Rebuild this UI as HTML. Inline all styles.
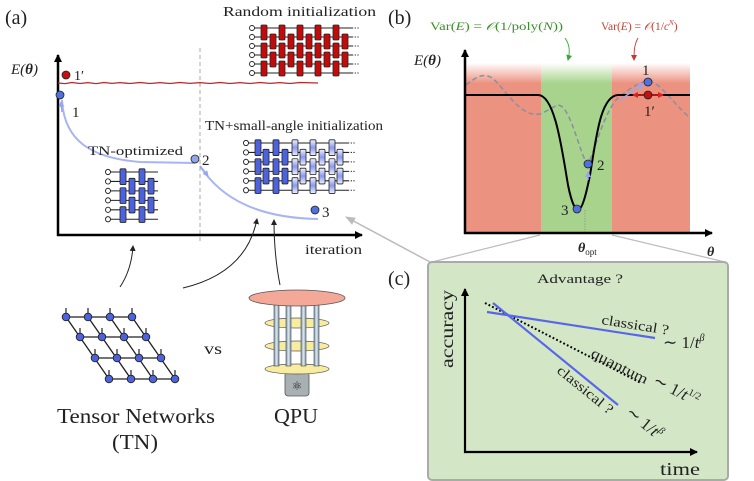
<!DOCTYPE html>
<html><head><meta charset="utf-8"><style>
html,body{margin:0;padding:0;background:#fff}
svg{display:block}
text{font-family:"Liberation Serif",serif;fill:#222}
</style></head><body>
<svg width="754" height="481" viewBox="0 0 754 481" xmlns="http://www.w3.org/2000/svg">
<defs>
<marker id="ah" markerWidth="8" markerHeight="8" refX="7" refY="4" orient="auto" markerUnits="userSpaceOnUse"><path d="M0,0 L8,4 L0,8 z" fill="#000"/></marker>
<marker id="ahs" markerWidth="6" markerHeight="6" refX="5" refY="3" orient="auto" markerUnits="userSpaceOnUse"><path d="M0,0 L6,3 L0,6 z" fill="#222"/></marker>
<marker id="ahg" markerWidth="10" markerHeight="8" refX="9" refY="4" orient="auto" markerUnits="userSpaceOnUse"><path d="M0,0 L10,4 L0,8 z" fill="#bbb"/></marker>
<marker id="ahb" markerWidth="6" markerHeight="6" refX="5" refY="3" orient="auto" markerUnits="userSpaceOnUse"><path d="M0,0 L6,3 L0,6 z" fill="#99a6ee"/></marker>
<marker id="ahr" markerWidth="6" markerHeight="6" refX="5" refY="3" orient="auto" markerUnits="userSpaceOnUse"><path d="M0,0 L6,3 L0,6 z" fill="#d22"/></marker>
<marker id="ahgr" markerWidth="6" markerHeight="6" refX="5" refY="3" orient="auto" markerUnits="userSpaceOnUse"><path d="M0,0 L6,3 L0,6 z" fill="#3a3"/></marker>
<marker id="ahrd" markerWidth="6" markerHeight="6" refX="5" refY="3" orient="auto" markerUnits="userSpaceOnUse"><path d="M0,0 L6,3 L0,6 z" fill="#c33"/></marker>
<g id="colA" stroke="#222" stroke-width="0.8"><rect x="-3" y="-3" width="6" height="15" rx="1"/><rect x="-3" y="15" width="6" height="15" rx="1"/><rect x="-3" y="33" width="6" height="15" rx="1"/></g>
<g id="colB" stroke="#222" stroke-width="0.8"><rect x="-3" y="6" width="6" height="15" rx="1"/><rect x="-3" y="24" width="6" height="15" rx="1"/></g>
<linearGradient id="lb" x1="0" y1="0" x2="0" y2="1"><stop offset="0" stop-color="#eef2ff"/><stop offset="0.5" stop-color="#8a99ee"/><stop offset="1" stop-color="#eef2ff"/></linearGradient>
<linearGradient id="fadeR" x1="0" y1="0" x2="0" y2="1"><stop offset="0" stop-color="#ec9280" stop-opacity="0"/><stop offset="0.12" stop-color="#ec9280" stop-opacity="1"/><stop offset="1" stop-color="#ec9280"/></linearGradient>
<linearGradient id="fadeG" x1="0" y1="0" x2="0" y2="1"><stop offset="0" stop-color="#a8d38c" stop-opacity="0"/><stop offset="0.12" stop-color="#a8d38c" stop-opacity="1"/><stop offset="1" stop-color="#a8d38c"/></linearGradient>
<linearGradient id="pill" x1="0" y1="0" x2="1" y2="0"><stop offset="0" stop-color="#7e97a4"/><stop offset="0.5" stop-color="#dfe9ee"/><stop offset="1" stop-color="#7e97a4"/></linearGradient>
</defs>

<!-- ===== Panel (a) ===== -->
<text x="5" y="24" font-size="20">(a)</text>
<text x="223" y="16" font-size="14" textLength="153" lengthAdjust="spacingAndGlyphs">Random initialization</text>

<g transform="translate(252,28)">
<g stroke="#222" stroke-width="1"><line x1="0" y1="0" x2="100" y2="0"/><line x1="0" y1="9" x2="100" y2="9"/><line x1="0" y1="18" x2="100" y2="18"/><line x1="0" y1="27" x2="100" y2="27"/><line x1="0" y1="36" x2="100" y2="36"/><line x1="0" y1="45" x2="100" y2="45"/></g>
<g stroke="#222" stroke-width="1" stroke-dasharray="1.2,1.5"><line x1="100" y1="0" x2="107" y2="0"/><line x1="100" y1="9" x2="107" y2="9"/><line x1="100" y1="18" x2="107" y2="18"/><line x1="100" y1="27" x2="107" y2="27"/><line x1="100" y1="36" x2="107" y2="36"/><line x1="100" y1="45" x2="107" y2="45"/></g>
<g fill="#fff" stroke="#222" stroke-width="0.9"><circle cx="0" cy="0" r="2.5"/><circle cx="0" cy="9" r="2.5"/><circle cx="0" cy="18" r="2.5"/><circle cx="0" cy="27" r="2.5"/><circle cx="0" cy="36" r="2.5"/><circle cx="0" cy="45" r="2.5"/></g>
<g fill="#c40b0b"><use href="#colA" x="12"/><use href="#colB" x="21"/><use href="#colA" x="30"/><use href="#colB" x="39"/><use href="#colA" x="48"/><use href="#colB" x="57"/><use href="#colA" x="66"/><use href="#colB" x="75"/><use href="#colA" x="84"/><use href="#colB" x="93"/></g>
</g>

<line x1="200" y1="48" x2="200" y2="242" stroke="#aaa" stroke-width="1" stroke-dasharray="4,3"/>
<line x1="58" y1="236" x2="58" y2="55" stroke="#000" stroke-width="2.5" marker-end="url(#ah)"/>
<line x1="57" y1="235" x2="362" y2="235" stroke="#000" stroke-width="2.5" marker-end="url(#ah)"/>
<text x="11" y="74" font-size="15" font-style="italic">E(<tspan font-weight="bold">θ</tspan>)</text>
<text x="305" y="254" font-size="14" textLength="57" lengthAdjust="spacingAndGlyphs">iteration</text>

<path d="M58,83 L65,83.6 L72,82.5 L80,83.5 L88,82.6 L96,83.6 L104,82.5 L112,83.4 L120,82.6 L130,83.5 L140,82.5 L150,83.5 L160,82.6 L170,83.5 L180,82.5 L190,83.4 L200,82.6 L210,83.5 L220,82.5 L230,83.5 L240,82.6 L250,83.5 L260,82.5 L270,83.4 L280,82.6 L290,83.5 L300,82.5 L318,83" fill="none" stroke="#b52a2a" stroke-width="1.3"/>
<circle cx="66" cy="75" r="4" fill="#c41010" stroke="#222" stroke-width="0.8"/>
<text x="74" y="80" font-size="14">1′</text>

<path d="M62,100 C64,140 90,158 140,162 L195,163" fill="none" stroke="#a9b4f2" stroke-width="2"/>
<path d="M62,112 L61,102" stroke="#99a6ee" stroke-width="1.5" marker-end="url(#ahb)"/>
<path d="M200,166 C222,200 260,218 318,219" fill="none" stroke="#a9b4f2" stroke-width="2"/>
<path d="M200,166 L208,176" stroke="#99a6ee" stroke-width="1.5" marker-end="url(#ahb)"/>
<circle cx="60" cy="95" r="4" fill="#5070dd" stroke="#222" stroke-width="0.8"/>
<text x="72" y="117" font-size="15">1</text>
<circle cx="195" cy="159" r="4" fill="#8fa6e8" stroke="#222" stroke-width="0.8"/>
<text x="202" y="165" font-size="15">2</text>
<circle cx="315" cy="210" r="4" fill="#5070dd" stroke="#222" stroke-width="0.8"/>
<text x="322" y="217" font-size="15">3</text>

<text x="88" y="155" font-size="13" textLength="95" lengthAdjust="spacingAndGlyphs">TN-optimized</text>
<text x="205" y="130" font-size="13.5" textLength="178" lengthAdjust="spacingAndGlyphs">TN+small-angle initialization</text>

<g transform="translate(108,172) scale(1,1.05)">
<g stroke="#222" stroke-width="1"><line x1="0" y1="0" x2="50" y2="0"/><line x1="0" y1="9" x2="50" y2="9"/><line x1="0" y1="18" x2="50" y2="18"/><line x1="0" y1="27" x2="50" y2="27"/><line x1="0" y1="36" x2="50" y2="36"/><line x1="0" y1="45" x2="50" y2="45"/></g>
<g fill="#fff" stroke="#222" stroke-width="0.9"><circle cx="0" cy="0" r="2.5"/><circle cx="0" cy="9" r="2.5"/><circle cx="0" cy="18" r="2.5"/><circle cx="0" cy="27" r="2.5"/><circle cx="0" cy="36" r="2.5"/><circle cx="0" cy="45" r="2.5"/></g>
<g fill="#4d63dd"><use href="#colA" x="15"/><use href="#colB" x="24"/><use href="#colA" x="34"/><use href="#colB" x="43"/></g>
</g>

<g transform="translate(246,143) scale(1,1.05)">
<g stroke="#222" stroke-width="1"><line x1="0" y1="0" x2="102" y2="0"/><line x1="0" y1="9" x2="102" y2="9"/><line x1="0" y1="18" x2="102" y2="18"/><line x1="0" y1="27" x2="102" y2="27"/><line x1="0" y1="36" x2="102" y2="36"/><line x1="0" y1="45" x2="102" y2="45"/></g>
<g stroke="#222" stroke-width="1" stroke-dasharray="1.2,1.5"><line x1="102" y1="0" x2="109" y2="0"/><line x1="102" y1="9" x2="109" y2="9"/><line x1="102" y1="18" x2="109" y2="18"/><line x1="102" y1="27" x2="109" y2="27"/><line x1="102" y1="36" x2="109" y2="36"/><line x1="102" y1="45" x2="109" y2="45"/></g>
<g fill="#fff" stroke="#222" stroke-width="0.9"><circle cx="0" cy="0" r="2.5"/><circle cx="0" cy="9" r="2.5"/><circle cx="0" cy="18" r="2.5"/><circle cx="0" cy="27" r="2.5"/><circle cx="0" cy="36" r="2.5"/><circle cx="0" cy="45" r="2.5"/></g>
<g fill="#4d63dd"><use href="#colA" x="12"/><use href="#colB" x="20"/><use href="#colA" x="30"/><use href="#colB" x="39"/></g>
<g fill="url(#lb)"><use href="#colA" x="49"/><use href="#colB" x="57"/><use href="#colA" x="67"/><use href="#colB" x="76"/><use href="#colA" x="86"/><use href="#colB" x="94"/></g>
</g>

<path d="M120,287 C128,275 132,262 133,246" fill="none" stroke="#222" stroke-width="1" marker-end="url(#ahs)"/>
<path d="M183,288 C225,278 250,255 257,219" fill="none" stroke="#222" stroke-width="1" marker-end="url(#ahs)"/>
<path d="M280,285 C276,265 274,240 274,220" fill="none" stroke="#222" stroke-width="1" marker-end="url(#ahs)"/>
<path d="M430,262 L346,217" fill="none" stroke="#bbb" stroke-width="1.5" marker-end="url(#ahg)"/>

<g stroke="#222" stroke-width="1.3">
<line x1="66" y1="317" x2="132" y2="317"/><line x1="80" y1="337" x2="146" y2="337"/><line x1="95" y1="358" x2="161" y2="358"/><line x1="109" y1="379" x2="175" y2="379"/>
<line x1="66" y1="317" x2="109" y2="379"/><line x1="88" y1="317" x2="131" y2="379"/><line x1="110" y1="317" x2="153" y2="379"/><line x1="132" y1="317" x2="175" y2="379"/>
</g>
<g stroke="#222" stroke-width="1.2">
<line x1="66" y1="317" x2="66" y2="308"/><line x1="88" y1="317" x2="88" y2="308"/><line x1="110" y1="317" x2="110" y2="308"/><line x1="132" y1="317" x2="132" y2="308"/>
<line x1="80" y1="337" x2="80" y2="328"/><line x1="102" y1="337" x2="102" y2="328"/><line x1="124" y1="337" x2="124" y2="328"/><line x1="146" y1="337" x2="146" y2="328"/>
<line x1="95" y1="358" x2="95" y2="349"/><line x1="117" y1="358" x2="117" y2="349"/><line x1="139" y1="358" x2="139" y2="349"/><line x1="161" y1="358" x2="161" y2="349"/>
<line x1="109" y1="379" x2="109" y2="370"/><line x1="131" y1="379" x2="131" y2="370"/><line x1="153" y1="379" x2="153" y2="370"/><line x1="175" y1="379" x2="175" y2="370"/>
</g>
<g fill="#4d63dd" stroke="#222" stroke-width="0.9">
<circle cx="66" cy="317" r="3.8"/><circle cx="88" cy="317" r="3.8"/><circle cx="110" cy="317" r="3.8"/><circle cx="132" cy="317" r="3.8"/>
<circle cx="80" cy="337" r="3.8"/><circle cx="102" cy="337" r="3.8"/><circle cx="124" cy="337" r="3.8"/><circle cx="146" cy="337" r="3.8"/>
<circle cx="95" cy="358" r="3.8"/><circle cx="117" cy="358" r="3.8"/><circle cx="139" cy="358" r="3.8"/><circle cx="161" cy="358" r="3.8"/>
<circle cx="109" cy="379" r="3.8"/><circle cx="131" cy="379" r="3.8"/><circle cx="153" cy="379" r="3.8"/><circle cx="175" cy="379" r="3.8"/>
</g>
<text x="204" y="354" font-size="16" textLength="18" lengthAdjust="spacingAndGlyphs">vs</text>
<text x="57" y="423" font-size="21" textLength="158" lengthAdjust="spacingAndGlyphs">Tensor Networks</text>
<text x="112" y="449" font-size="21" textLength="46" lengthAdjust="spacingAndGlyphs">(TN)</text>
<text x="274" y="423" font-size="21" textLength="44" lengthAdjust="spacingAndGlyphs">QPU</text>

<g>
<rect x="285" y="372" width="24" height="24" rx="3" fill="#a9b0b3" stroke="#555" stroke-width="0.8"/>
<text x="297" y="390" font-size="12" text-anchor="middle" fill="#444">⚛</text>
<ellipse cx="297" cy="369" rx="32" ry="5" fill="#f8eca0" stroke="#555" stroke-width="0.7"/>
<ellipse cx="297" cy="346" rx="32" ry="5" fill="#f8eca0" stroke="#555" stroke-width="0.7"/>
<ellipse cx="297" cy="323" rx="32" ry="5" fill="#f8eca0" stroke="#555" stroke-width="0.7"/>
<g fill="url(#pill)" stroke="#445" stroke-width="0.6">
<rect x="274" y="303" width="5" height="63"/><rect x="286" y="303" width="5" height="63"/><rect x="301" y="303" width="5" height="63"/><rect x="314" y="303" width="5" height="63"/>
</g>
<ellipse cx="297" cy="298" rx="48" ry="8" fill="#f3a898" stroke="#555" stroke-width="0.8"/>
</g>

<!-- ===== Panel (b) ===== -->
<text x="388" y="24" font-size="20">(b)</text>
<rect x="466" y="63" width="75" height="170" fill="url(#fadeR)"/>
<rect x="541" y="63" width="71" height="170" fill="url(#fadeG)"/>
<rect x="612" y="63" width="78" height="170" fill="url(#fadeR)"/>
<text x="430" y="30" font-size="11.5" textLength="133" lengthAdjust="spacingAndGlyphs" style="fill:#3b8f2b">Var(<tspan font-style="italic">E</tspan>) = <tspan font-style="italic">𝒪</tspan>(1/poly(<tspan font-style="italic">N</tspan>))</text>
<text x="601" y="30" font-size="11.5" style="fill:#c0443a">Var(<tspan font-style="italic">E</tspan>) = <tspan font-style="italic">𝒪</tspan>(1/<tspan font-style="italic">c</tspan><tspan font-size="7" dy="-5" font-style="italic">N</tspan><tspan dy="5">)</tspan></text>
<path d="M565,38 C570,45 570,52 568,60" fill="none" stroke="#3a3" stroke-width="0.9" marker-end="url(#ahgr)"/>
<path d="M638,38 C634,45 634,52 634,60" fill="none" stroke="#c33" stroke-width="0.9" marker-end="url(#ahrd)"/>
<path d="M466,85 C475,78 483,72 492,78 C505,88 520,118 540,114 C555,108 558,100 565,110 C575,125 582,160 588,164 C595,150 605,110 618,98 C630,88 640,82 648,81 C660,82 670,100 690,118" fill="none" stroke="#8a8f9f" stroke-width="1.5" stroke-dasharray="5,3"/>
<path d="M466,95 L538,95 C555,95 562,150 568,185 C572,205 576,210 578,210 C582,210 586,195 590,175 C596,140 600,96 618,95 L690,95" fill="none" stroke="#000" stroke-width="2"/>
<line x1="585" y1="210" x2="585" y2="233" stroke="#888" stroke-width="0.8" stroke-dasharray="1.2,1.5"/>
<path d="M588,180 L588,172" stroke="#99a6ee" stroke-width="1.5" marker-end="url(#ahb)"/>
<path d="M620,100 L643,84" stroke="#99a6ee" stroke-width="1.5" marker-end="url(#ahb)"/>
<line x1="648" y1="95" x2="633" y2="95" stroke="#d22" stroke-width="1.5" marker-end="url(#ahr)"/>
<line x1="648" y1="95" x2="663" y2="95" stroke="#d22" stroke-width="1.5" marker-end="url(#ahr)"/>
<circle cx="648" cy="82" r="4" fill="#5070dd" stroke="#222" stroke-width="0.8"/>
<circle cx="648" cy="95" r="4" fill="#c41010" stroke="#222" stroke-width="0.8"/>
<text x="642" y="75" font-size="15">1</text>
<text x="644" y="116" font-size="15">1′</text>
<circle cx="588" cy="164" r="4" fill="#5070dd" stroke="#222" stroke-width="0.8"/>
<text x="597" y="170" font-size="15">2</text>
<circle cx="577" cy="209" r="4" fill="#5070dd" stroke="#222" stroke-width="0.8"/>
<text x="561" y="215" font-size="15">3</text>
<line x1="465" y1="234" x2="465" y2="50" stroke="#000" stroke-width="2.5" marker-end="url(#ah)"/>
<line x1="464" y1="233" x2="712" y2="233" stroke="#000" stroke-width="2.5" marker-end="url(#ah)"/>
<text x="414" y="65" font-size="15" font-style="italic">E(<tspan font-weight="bold">θ</tspan>)</text>
<text x="578" y="252" font-size="14" font-weight="bold" font-style="italic">θ<tspan font-size="9" font-weight="normal" font-style="normal" dy="3">opt</tspan></text>
<text x="707" y="256" font-size="14" font-weight="bold" font-style="italic">θ</text>

<line x1="540" y1="235" x2="432" y2="262" stroke="#bbb" stroke-width="1.2"/>
<line x1="612" y1="235" x2="725" y2="262" stroke="#bbb" stroke-width="1.2"/>

<!-- ===== Panel (c) ===== -->
<text x="388" y="285" font-size="20">(c)</text>
<rect x="428" y="262" width="300" height="218" rx="4" fill="#d3e7c7" stroke="#aaa" stroke-width="2"/>
<text x="537" y="283" font-size="13" textLength="86" lengthAdjust="spacingAndGlyphs">Advantage ?</text>
<line x1="465" y1="453" x2="465" y2="289" stroke="#000" stroke-width="2.2" marker-end="url(#ah)"/>
<line x1="464" y1="452" x2="697" y2="452" stroke="#000" stroke-width="2.2" marker-end="url(#ah)"/>
<text transform="translate(453,368) rotate(-90)" font-size="18" textLength="78" lengthAdjust="spacingAndGlyphs">accuracy</text>
<text x="660" y="475" font-size="18" textLength="40" lengthAdjust="spacingAndGlyphs">time</text>
<line x1="485" y1="303" x2="641" y2="383" stroke="#000" stroke-width="2" stroke-dasharray="1.8,2.2"/>
<line x1="487" y1="312" x2="655" y2="338" stroke="#5767e8" stroke-width="2.2"/>
<line x1="493" y1="303" x2="618" y2="405" stroke="#5767e8" stroke-width="2.2"/>
<text transform="translate(601,324) rotate(9)" font-size="14" textLength="68" lengthAdjust="spacingAndGlyphs">classical ?</text>
<text x="663" y="348" font-size="17">∼ 1/<tspan font-style="italic">t</tspan><tspan font-size="10" font-style="italic" dy="-7">β</tspan></text>
<text transform="translate(590,356) rotate(27)" font-size="14" textLength="62" lengthAdjust="spacingAndGlyphs">quantum</text>
<text transform="translate(652,384) rotate(27)" font-size="17">∼ 1/<tspan font-style="italic">t</tspan><tspan font-size="10" dy="-7">1/2</tspan></text>
<text transform="translate(556,372) rotate(39)" font-size="14" textLength="68" lengthAdjust="spacingAndGlyphs">classical ?</text>
<text transform="translate(625,414) rotate(39)" font-size="17">∼ 1/<tspan font-style="italic">t</tspan><tspan font-size="10" font-style="italic" dy="-7">β</tspan></text>
</svg>
</body></html>
